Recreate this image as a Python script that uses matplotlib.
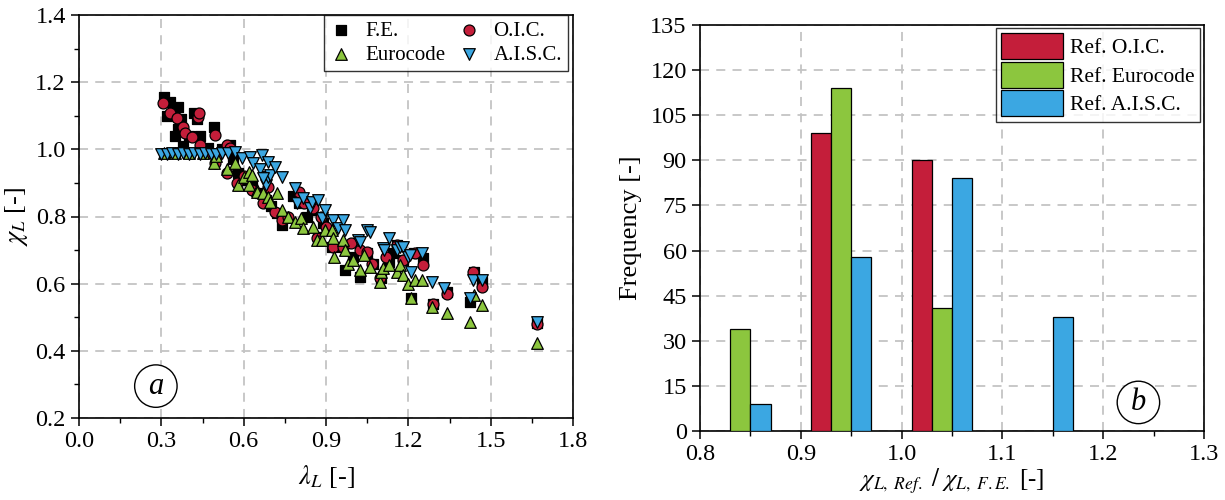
import matplotlib.pyplot as plt
from matplotlib.ticker import MultipleLocator

plt.rcParams['font.family'] = ['Liberation Serif', 'DejaVu Serif']
plt.rcParams['mathtext.fontset'] = 'stix'

# --- scatter data (a): lambda_L vs chi_L ---
fe_lam = [0.31, 0.32, 0.33, 0.35, 0.36, 0.36, 0.37, 0.38, 0.40, 0.42, 0.43, 0.44, 0.45, 0.47,
          0.49, 0.50, 0.52, 0.55, 0.56, 0.58, 0.60, 0.63, 0.66, 0.68, 0.70, 0.72, 0.74, 0.78,
          0.80, 0.83, 0.85, 0.87, 0.89, 0.92, 0.96, 0.97, 1.00, 1.024, 1.05, 1.07, 1.10, 1.13,
          1.145, 1.16, 1.18, 1.21, 1.22, 1.254, 1.29, 1.34, 1.425, 1.44, 1.47, 1.67]
fe_chi = [1.155, 1.10, 1.14, 1.04, 1.126, 1.06, 1.09, 1.01, 1.04, 1.107, 1.09, 1.04, 1.00, 1.004,
          1.066, 0.98, 1.00, 1.013, 0.97, 0.93, 0.91, 0.89, 0.87, 0.85, 0.83, 0.81, 0.775, 0.86,
          0.84, 0.80, 0.82, 0.74, 0.78, 0.71, 0.71, 0.64, 0.68, 0.62, 0.69, 0.66, 0.617, 0.665,
          0.69, 0.715, 0.67, 0.557, 0.69, 0.676, 0.54, 0.575, 0.545, 0.636, 0.605, 0.483]

oic_lam = [0.306, 0.33, 0.357, 0.38, 0.386, 0.41, 0.434, 0.437, 0.44, 0.47, 0.496, 0.496, 0.50,
           0.54, 0.55, 0.54, 0.575, 0.60, 0.63, 0.67, 0.69, 0.714, 0.74, 0.76, 0.80, 0.82, 0.853,
           0.867, 0.88, 0.90, 0.926, 0.96, 0.99, 1.024, 1.05, 1.067, 1.097, 1.12, 1.16, 1.18,
           1.224, 1.254, 1.29, 1.34, 1.436, 1.47, 1.67]
oic_chi = [1.138, 1.108, 1.093, 1.066, 1.05, 1.036, 1.096, 1.107, 1.013, 0.99, 1.043, 0.96, 0.977,
           1.013, 1.005, 0.93, 0.90, 0.92, 0.88, 0.84, 0.888, 0.813, 0.79, 0.80, 0.873, 0.84, 0.825,
           0.736, 0.80, 0.77, 0.71, 0.71, 0.72, 0.70, 0.694, 0.66, 0.617, 0.68, 0.715, 0.67,
           0.69, 0.656, 0.54, 0.57, 0.635, 0.59, 0.48]

ec_lam = [0.31, 0.35, 0.40, 0.45, 0.49, 0.50, 0.54, 0.57, 0.58, 0.60, 0.62, 0.62, 0.63, 0.648,
          0.65, 0.67, 0.69, 0.696, 0.72, 0.74, 0.76, 0.787, 0.81, 0.816, 0.853, 0.867, 0.885,
          0.896, 0.92, 0.926, 0.93, 0.96, 0.97, 0.98, 1.00, 1.024, 1.04, 1.06, 1.097, 1.10, 1.107,
          1.13, 1.16, 1.17, 1.18, 1.20, 1.21, 1.224, 1.25, 1.286, 1.34, 1.425, 1.44, 1.47, 1.67]
ec_chi = [0.99, 0.99, 0.99, 0.99, 0.96, 0.98, 0.94, 0.96, 0.894, 0.918, 0.933, 0.894, 0.924, 0.88,
          0.873, 0.87, 0.858, 0.843, 0.87, 0.82, 0.80, 0.784, 0.795, 0.766, 0.77, 0.73, 0.73,
          0.76, 0.76, 0.736, 0.68, 0.73, 0.70, 0.66, 0.67, 0.64, 0.686, 0.65, 0.605, 0.636, 0.646,
          0.656, 0.635, 0.656, 0.626, 0.60, 0.557, 0.61, 0.61, 0.53, 0.513, 0.486, 0.566, 0.536, 0.424]

aisc_lam = [0.30, 0.32, 0.34, 0.36, 0.38, 0.40, 0.42, 0.44, 0.46, 0.48, 0.50, 0.52, 0.543, 0.57,
            0.594, 0.623, 0.634, 0.66, 0.667, 0.69, 0.68, 0.69, 0.696, 0.67, 0.714, 0.74, 0.787,
            0.794, 0.816, 0.84, 0.85, 0.87, 0.885, 0.896, 0.926, 0.944, 0.96, 0.97, 1.017, 1.024,
            1.05, 1.06, 1.107, 1.11, 1.13, 1.16, 1.17, 1.18, 1.20, 1.206, 1.21, 1.25, 1.286, 1.33,
            1.425, 1.436, 1.47, 1.67]
aisc_chi = [0.985, 0.985, 0.988, 0.985, 0.988, 0.985, 0.988, 0.985, 0.988, 0.985, 0.985, 0.99,
            0.99, 0.992, 0.974, 0.977, 0.96, 0.94, 0.983, 0.962, 0.894, 0.918, 0.924, 0.915, 0.947,
            0.918, 0.885, 0.84, 0.855, 0.825, 0.843, 0.85, 0.796, 0.82, 0.79, 0.766, 0.79, 0.76,
            0.73, 0.724, 0.76, 0.754, 0.706, 0.70, 0.736, 0.70, 0.71, 0.71, 0.68, 0.685, 0.636,
            0.69, 0.605, 0.587, 0.557, 0.61, 0.61, 0.486]

# --- histogram data (b) ---
bin_centers = [0.84, 0.94, 1.04, 1.14]
oic_counts = [0, 99, 90, 0]
ec_counts = [34, 114, 41, 0]
aisc_counts = [9, 58, 84, 38]

red = '#C41E3A'
green = '#8CC63E'
blue = '#3BA7E2'
grid_kw = dict(color='#c4c4c4', linestyle=(0, (5, 4)), linewidth=1.3)

fig = plt.figure(figsize=(12.25, 5), dpi=100)
ax1 = fig.add_axes([0.0645, 0.164, 0.4033, 0.806])
ax2 = fig.add_axes([0.5714, 0.138, 0.4114, 0.812])

# (a) scatter
mk = dict(edgecolors='black', linewidths=0.9, zorder=3)
h_fe = ax1.scatter(fe_lam, fe_chi, marker='s', s=48, c='black', label='F.E.', **mk)
h_oic = ax1.scatter(oic_lam, oic_chi, marker='o', s=62, c=red, label='O.I.C.', **mk)
h_ec = ax1.scatter(ec_lam, ec_chi, marker='^', s=70, c=green, label='Eurocode', **mk)
h_aisc = ax1.scatter(aisc_lam, aisc_chi, marker='v', s=70, c=blue, label='A.I.S.C.', **mk)
ax1.set_xlim(0, 1.8)
ax1.set_ylim(0.2, 1.4)
ax1.xaxis.set_major_locator(MultipleLocator(0.3))
ax1.xaxis.set_minor_locator(MultipleLocator(0.15))
ax1.yaxis.set_major_locator(MultipleLocator(0.2))
ax1.yaxis.set_minor_locator(MultipleLocator(0.1))
ax1.set_xticklabels([f'{v:.1f}' for v in ax1.get_xticks()])
ax1.set_yticklabels([f'{v:.1f}' for v in ax1.get_yticks()])
ax1.grid(True, **grid_kw)
ax1.set_axisbelow(True)
ax1.set_xlabel(r'$\lambda_L$ [-]', fontsize=19, labelpad=8)
ax1.set_ylabel(r'$\chi_L$ [-]', fontsize=19, labelpad=4)
# column-wise fill: F.E./Eurocode left, O.I.C./A.I.S.C. right
leg1 = ax1.legend([h_fe, h_ec, h_oic, h_aisc], ['F.E.', 'Eurocode', 'O.I.C.', 'A.I.S.C.'],
                  loc='upper right', bbox_to_anchor=(0.99, 1.0), ncol=2, fontsize=15,
                  frameon=True, fancybox=False, edgecolor='black', borderaxespad=0,
                  handlelength=1.1, handletextpad=0.6, columnspacing=0.6,
                  borderpad=0.3, labelspacing=0.2)
leg1.get_frame().set_linewidth(1.0)
ax1.text(0.28, 0.295, 'a', fontsize=22, style='italic', ha='center', va='center',
         bbox=dict(boxstyle='circle,pad=0.22', fc='white', ec='black', lw=1.0), zorder=5)

# (b) grouped histogram
w = 0.02
ax2.bar([c - w for c in bin_centers], oic_counts, width=w, color=red, edgecolor='black',
        linewidth=0.9, label='Ref. O.I.C.', zorder=3)
ax2.bar(bin_centers, ec_counts, width=w, color=green, edgecolor='black',
        linewidth=0.9, label='Ref. Eurocode', zorder=3)
ax2.bar([c + w for c in bin_centers], aisc_counts, width=w, color=blue, edgecolor='black',
        linewidth=0.9, label='Ref. A.I.S.C.', zorder=3)
ax2.set_xlim(0.8, 1.3)
ax2.set_ylim(0, 135)
ax2.xaxis.set_major_locator(MultipleLocator(0.1))
ax2.xaxis.set_minor_locator(MultipleLocator(0.05))
ax2.yaxis.set_major_locator(MultipleLocator(15))
ax2.set_xticklabels([f'{v:.1f}' for v in ax2.get_xticks()])
ax2.grid(True, **grid_kw)
ax2.set_axisbelow(True)
ax2.set_xlabel(r'$\chi_{L,\ Ref.}\ /\ \chi_{L,\ F.E.}$ [-]', fontsize=18, labelpad=1)
ax2.set_ylabel('Frequency [-]', fontsize=19, labelpad=6)
leg2 = ax2.legend(loc='upper right', bbox_to_anchor=(0.992, 0.993), fontsize=15.5,
                  frameon=True, fancybox=False, edgecolor='black', borderaxespad=0,
                  handlelength=2.9, handleheight=1.5, handletextpad=0.3,
                  labelspacing=0.1, borderpad=0.25)
leg2.get_frame().set_linewidth(1.0)
ax2.text(1.235, 9.5, 'b', fontsize=22, style='italic', ha='center', va='center',
         bbox=dict(boxstyle='circle,pad=0.22', fc='white', ec='black', lw=1.0), zorder=5)

for ax in (ax1, ax2):
    ax.tick_params(which='both', direction='out', top=False, right=False, labelsize=17.5)
    ax.tick_params(which='major', length=6, width=1.1)
    ax.tick_params(which='minor', length=3.5, width=1.0)
    for sp in ax.spines.values():
        sp.set_linewidth(1.2)

fig.savefig('out.png', dpi=100)
